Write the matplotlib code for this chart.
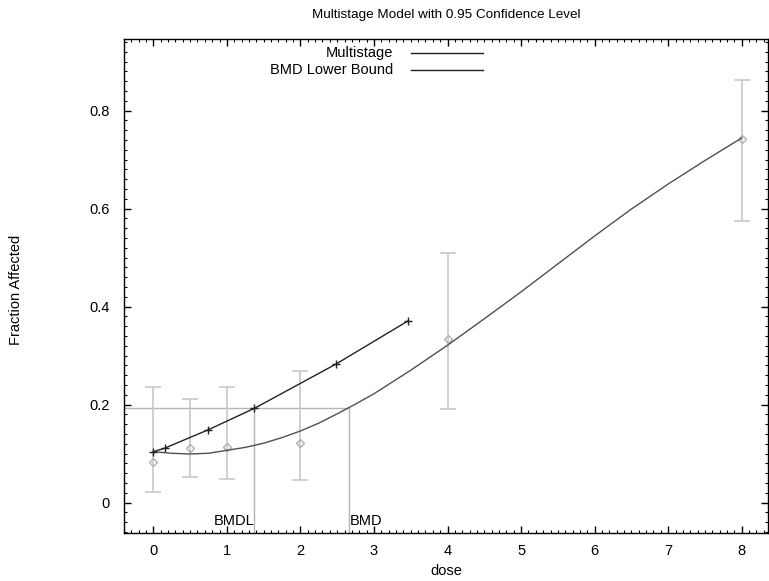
import matplotlib
matplotlib.use("Agg")
import matplotlib.pyplot as plt
from matplotlib.ticker import MultipleLocator
from matplotlib.lines import Line2D

plt.rcParams["font.family"] = ["Liberation Sans", "DejaVu Sans"]
FS = 10.5

# observed data (dose, fraction affected, confidence limits)
DOSE = [0, 0.5, 1, 2, 4, 8]
FRAC = [0.0833, 0.1106, 0.1133, 0.122, 0.333, 0.742]
LOWER = [0.0214, 0.052, 0.0473, 0.046, 0.190, 0.574]
UPPER = [0.235, 0.211, 0.236, 0.269, 0.510, 0.862]

# fitted multistage curve
FIT_DOSE = [0, 0.25, 0.5, 0.75, 1, 1.25, 1.5, 1.75, 2, 2.25, 2.5, 2.75, 3, 3.5,
            4, 4.5, 5, 5.5, 6, 6.5, 7, 7.5, 8]
FIT_FRAC = [0.1037, 0.1005, 0.0990, 0.1005, 0.1065, 0.1125, 0.121, 0.1325, 0.146,
            0.162, 0.181, 0.201, 0.222, 0.270, 0.321, 0.375, 0.430, 0.487, 0.544,
            0.599, 0.650, 0.698, 0.744]

# BMD lower bound curve
LB_DOSE = [0, 0.159, 0.74, 1.374, 2.485, 3.468]
LB_FRAC = [0.1037, 0.1112, 0.148, 0.1922, 0.2827, 0.3711]

BMR_LEVEL = 0.1935
BMDL = 1.374
BMD = 2.657

W, H = 769, 581
fig = plt.figure(figsize=(W / 100, H / 100), dpi=100)
ax = fig.add_axes([123.6 / W, 1 - 532.7 / H, (768 - 123.6) / W, (532.7 - 39) / H])

XMIN, XMAX = -0.404, 8.357
YMIN, YMAX = -0.0616, 0.946
ax.set_xlim(XMIN, XMAX)
ax.set_ylim(YMIN, YMAX)

grey = "#b4b4b4"
# BMD reference lines
ax.plot([XMIN, BMD], [BMR_LEVEL, BMR_LEVEL], color=grey, lw=1)
ax.plot([BMDL, BMDL], [YMIN, BMR_LEVEL], color=grey, lw=1)
ax.plot([BMD, BMD], [YMIN, BMR_LEVEL], color=grey, lw=1)
ax.text(BMDL, -0.046, "BMDL", ha="right", va="baseline", fontsize=FS)
ax.text(BMD + 0.01, -0.046, "BMD", ha="left", va="baseline", fontsize=FS)

# data with error bars
yerr = [[f - l for f, l in zip(FRAC, LOWER)], [u - f for f, u in zip(FRAC, UPPER)]]
ax.errorbar(DOSE, FRAC, yerr=yerr, fmt="none", ecolor="#c8c8c8", elinewidth=1.2,
            capsize=5.5, capthick=1.2)
ax.plot(DOSE, FRAC, linestyle="none", marker="D", markersize=4.5,
        markerfacecolor="none", markeredgecolor="#b0b0b0", markeredgewidth=1)

ax.plot(FIT_DOSE, FIT_FRAC, color="#505050", lw=1)
ax.plot(LB_DOSE, LB_FRAC, color="#222222", lw=1, marker="+", markersize=6,
        markeredgewidth=1)

# legend drawn by hand, gnuplot style
for ypix, label in [(53, "Multistage"), (70, "BMD Lower Bound")]:
    fig.text(393 / W, 1 - ypix / H, label, ha="right", va="center", fontsize=FS)
    fig.add_artist(Line2D([411 / W, 483 / W], [1 - ypix / H, 1 - ypix / H],
                          color="#222222", lw=1))

ax.xaxis.set_major_locator(MultipleLocator(1))
ax.xaxis.set_minor_locator(MultipleLocator(0.1))
ax.yaxis.set_major_locator(MultipleLocator(0.2))
ax.yaxis.set_minor_locator(MultipleLocator(0.02))
ax.set_yticks([0, 0.2, 0.4, 0.6, 0.8])
ax.set_yticklabels(["0", "0.2", "0.4", "0.6", "0.8"])
ax.tick_params(which="both", direction="in", top=True, right=True, labelsize=FS)
ax.tick_params(which="major", length=5, width=1, pad=8)
ax.tick_params(which="minor", length=2.5, width=0.8)
ax.tick_params(axis="y", pad=10)
for s in ax.spines.values():
    s.set_linewidth(1)

fig.text(446 / W, 1 - 15 / H, "Multistage Model with 0.95 Confidence Level",
         ha="center", va="center", fontsize=9.7)
fig.text(446 / W, 1 - 571 / H, "dose", ha="center", va="center", fontsize=FS)
fig.text(16 / W, 1 - 290 / H, "Fraction Affected", ha="center", va="center",
         rotation=90, fontsize=FS)

fig.savefig("out.png", dpi=100)
